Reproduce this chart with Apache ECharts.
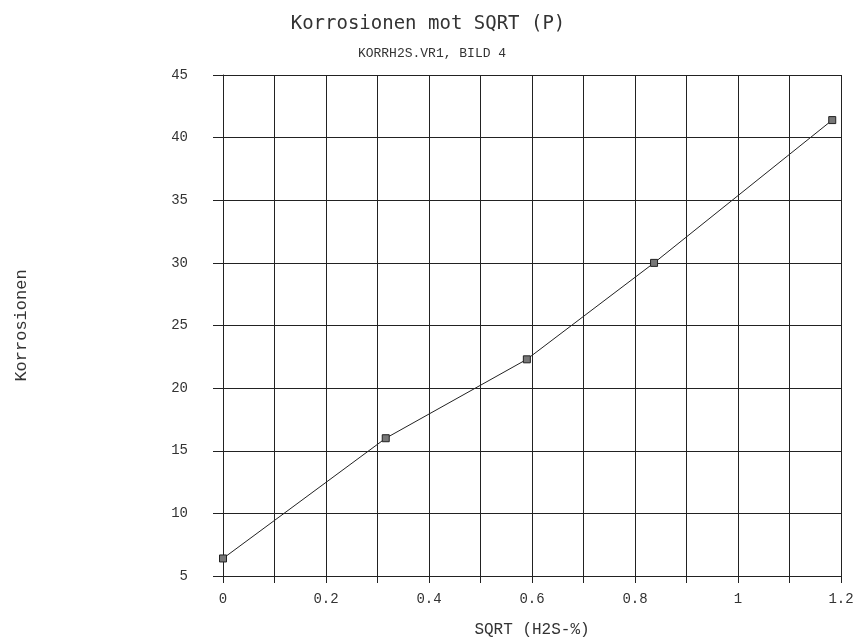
<!DOCTYPE html>
<html>
<head>
<meta charset="utf-8">
<script src="https://cdn.jsdelivr.net/npm/echarts@6/dist/echarts.min.js"></script>
<style>html,body{margin:0;padding:0;background:#fff}#c{width:861px;height:640px}</style>
</head>
<body>
<div id="c"></div>
<script>
const xValues = [0, 0.316, 0.590, 0.837, 1.183];
const yValues = [6.4, 16.0, 22.3, 30.0, 41.4];
const titleText = 'Korrosionen mot SQRT (P)';
const subtitleText = 'KORRH2S.VR1, BILD 4';
const xName = 'SQRT (H2S-%)';
const yName = 'Korrosionen';

const chart = echarts.init(document.getElementById('c'));
const mono = "'Liberation Mono', 'DejaVu Sans Mono', monospace";
chart.setOption({
  animation: false,
  backgroundColor: '#fff',
  title: [
    {text: titleText, left: 423, top: 10, textAlign: 'center',
     textStyle: {fontFamily: "'DejaVu Sans Mono', monospace", fontSize: 19, fontWeight: 'normal', color: '#333'}},
    {text: subtitleText, left: 427, top: 42, textAlign: 'center',
     textStyle: {fontFamily: mono, fontSize: 13, fontWeight: 'normal', color: '#333'}}
  ],
  grid: {left: 223, right: 20, top: 75, bottom: 64, containLabel: false, outerBoundsMode: 'none'},
  xAxis: {
    type: 'value', min: 0, max: 1.2, interval: 0.1,
    name: xName, nameLocation: 'middle', nameGap: 46,
    nameTextStyle: {fontFamily: mono, fontSize: 16, color: '#333'},
    axisLine: {show: true, lineStyle: {color: '#222', width: 1}},
    axisTick: {show: true, length: 7, lineStyle: {color: '#222'}},
    splitLine: {show: true, lineStyle: {color: '#222', width: 1}},
    axisLabel: {
      margin: 16, fontFamily: mono, fontSize: 14, color: '#333',
      formatter: function (v) {
        const k = Math.round(v * 10);
        if (k % 2 !== 0) return '';
        return String(+(k / 10).toFixed(1));
      }
    }
  },
  yAxis: {
    type: 'value', min: 5, max: 45, interval: 5,
    name: yName, nameLocation: 'middle', nameGap: 193, nameRotate: 90,
    nameTextStyle: {fontFamily: mono, fontSize: 17, color: '#333'},
    axisLine: {show: true, lineStyle: {color: '#222', width: 1}},
    axisTick: {show: true, length: 10, lineStyle: {color: '#222'}},
    splitLine: {show: true, lineStyle: {color: '#222', width: 1}},
    axisLabel: {margin: 35, fontFamily: mono, fontSize: 14, color: '#333'}
  },
  series: [{
    type: 'line',
    data: xValues.map((x, i) => [x, yValues[i]]),
    symbol: 'rect', symbolSize: 7,
    lineStyle: {color: '#222', width: 1},
    itemStyle: {color: '#777', borderColor: '#222', borderWidth: 1}
  }]
});
</script>
</body>
</html>
